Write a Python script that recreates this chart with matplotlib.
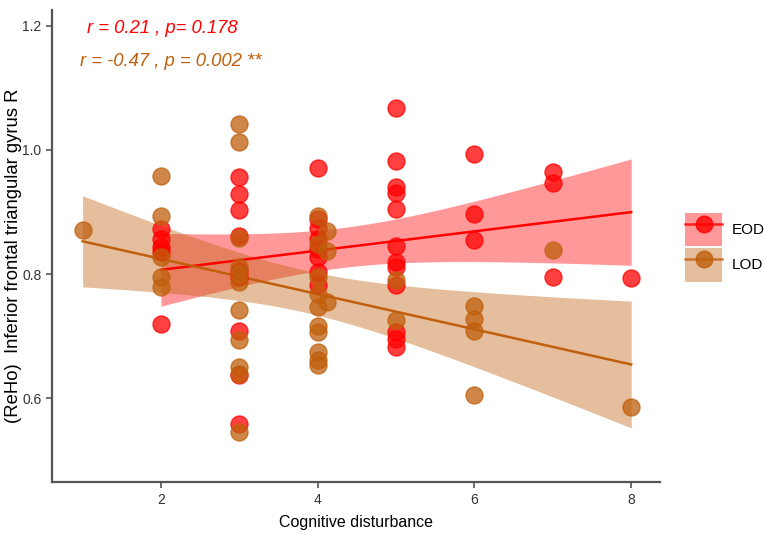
import matplotlib.pyplot as plt
import numpy as np
from matplotlib.lines import Line2D
from matplotlib.patches import Patch
from matplotlib.legend_handler import HandlerTuple

plt.rcParams['font.family'] = ['Liberation Sans', 'DejaVu Sans']

# data
eod_x = [2, 2, 2, 2, 2,
         3, 3, 3, 3, 3, 3, 3, 3, 3,
         4, 4, 4, 4, 4, 4, 4, 4,
         5, 5, 5, 5, 5, 5, 5, 5, 5, 5, 5, 5,
         6, 6, 6,
         7, 7, 7,
         8]
eod_y = [0.873, 0.857, 0.843, 0.835, 0.720,
         0.956, 0.929, 0.903, 0.862, 0.805, 0.795, 0.708, 0.638, 0.559,
         0.971, 0.889, 0.875, 0.857, 0.840, 0.827, 0.803, 0.782,
         1.067, 0.982, 0.940, 0.931, 0.905, 0.846, 0.819, 0.811, 0.782, 0.707, 0.696, 0.682,
         0.993, 0.897, 0.855,
         0.964, 0.946, 0.796,
         0.794]

lod_x = [1,
         2, 2, 2, 2, 2,
         3, 3, 3, 3, 3, 3, 3, 3, 3, 3, 3,
         4, 4, 4, 4, 4, 4, 4, 4, 4, 4, 4.12, 4.12, 4.12,
         5, 5,
         6, 6, 6, 6,
         7,
         8]
lod_y = [0.871,
         0.958, 0.894, 0.827, 0.795, 0.780,
         1.042, 1.013, 0.858, 0.811, 0.800, 0.787, 0.742, 0.694, 0.650, 0.640, 0.546,
         0.894, 0.849, 0.795, 0.768, 0.747, 0.717, 0.707, 0.674, 0.661, 0.653, 0.870, 0.838, 0.755,
         0.790, 0.726,
         0.748, 0.728, 0.709, 0.605,
         0.839,
         0.586]

eod_col = '#FF0000'
lod_col = '#C05F0C'
t_crit = 2.02  # ~95% t quantile, df ~ 40


def fit_band(x, y, col, ax):
    x = np.asarray(x, float)
    y = np.asarray(y, float)
    b, a = np.polyfit(x, y, 1)
    xs = np.linspace(x.min(), x.max(), 80)
    ys = a + b * xs
    res = y - (a + b * x)
    n = len(x)
    s = np.sqrt(np.sum(res ** 2) / (n - 2))
    sxx = np.sum((x - x.mean()) ** 2)
    se = s * np.sqrt(1 / n + (xs - x.mean()) ** 2 / sxx)
    ax.fill_between(xs, ys - t_crit * se, ys + t_crit * se, color=col, alpha=0.4, lw=0, zorder=1)
    ax.plot(xs, ys, color=col, lw=1.8, zorder=2)


fig = plt.figure(figsize=(7.65, 5.34), dpi=100)
ax = fig.add_axes([0.068, 0.097, 0.795, 0.884])

fit_band(eod_x, eod_y, eod_col, ax)
fit_band(lod_x, lod_y, lod_col, ax)

ax.scatter(eod_x, eod_y, s=150, facecolor=eod_col, edgecolor=eod_col, alpha=0.75, lw=1, zorder=3)
ax.scatter(lod_x, lod_y, s=150, facecolor=lod_col, edgecolor=lod_col, alpha=0.75, lw=1, zorder=3)

ax.text(1.05, 1.196, 'r = 0.21 , p= 0.178', color=eod_col, fontsize=13.3, style='italic',
        ha='left', va='center')
ax.text(0.97, 1.143, 'r = -0.47 , p = 0.002 **', color=lod_col, fontsize=13.3, style='italic',
        ha='left', va='center')

ax.set_xlim(0.61, 8.37)
ax.set_ylim(0.465, 1.225)
ax.set_xticks([2, 4, 6, 8])
ax.set_yticks([0.6, 0.8, 1.0, 1.2])
ax.set_yticklabels(['0.6', '0.8', '1.0', '1.2'])

for sp in ['top', 'right']:
    ax.spines[sp].set_visible(False)
for sp in ['left', 'bottom']:
    ax.spines[sp].set_color('#555555')
    ax.spines[sp].set_linewidth(1.6)
ax.tick_params(colors='#555555', labelcolor='#333333', labelsize=10, length=4, width=1.2)

ax.set_xlabel('Cognitive disturbance', fontsize=11.5, labelpad=6)
ax.set_ylabel('(ReHo)  Inferior frontal triangular gyrus R', fontsize=13.3)
ax.yaxis.set_label_coords(-0.05, 0.479)

handles = []
for col in [eod_col, lod_col]:
    bg = Patch(facecolor=col, alpha=0.4, edgecolor='none')
    ln = Line2D([], [], color=col, lw=1.8, marker='o', markersize=12,
                markerfacecolor=col, markeredgecolor=col, alpha=0.8)
    handles.append((bg, ln))
fig.legend(handles, ['EOD', 'LOD'], handler_map={tuple: HandlerTuple(ndivide=1, pad=0)},
           loc='center left', bbox_to_anchor=(0.896, 0.537), frameon=False,
           fontsize=11, handlelength=2.4, handleheight=3.0, labelspacing=0.1,
           handletextpad=0.6, borderaxespad=0, borderpad=0)

fig.savefig('out.png', dpi=100)
